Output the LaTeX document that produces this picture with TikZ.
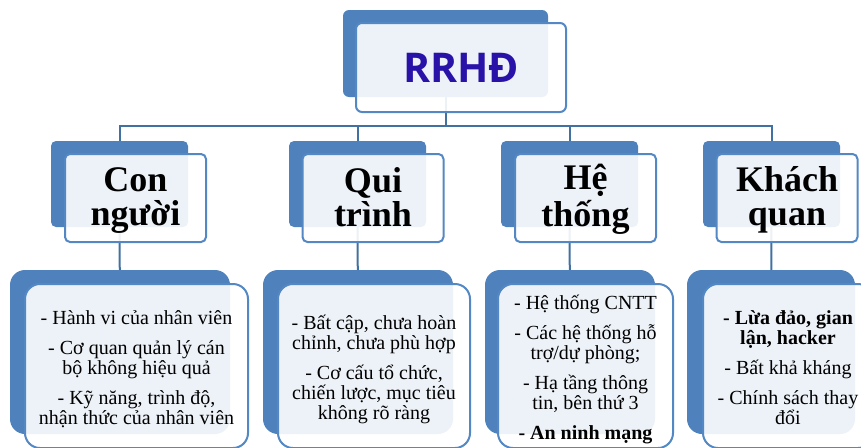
\documentclass[tikz,border=0pt]{standalone}
\usepackage{fontspec}
\setmainfont{Liberation Serif}
\newfontfamily\titlefont{Open Sans}
\usetikzlibrary{backgrounds}
\definecolor{backblue}{RGB}{79,129,189}
\definecolor{frontline}{RGB}{84,136,196}
\definecolor{conn}{RGB}{65,113,160}
\definecolor{titleblue}{RGB}{40,18,168}
\newcommand\ltwostrut{\rule[-6pt]{0pt}{34pt}}
\newcommand\lthreestrut{\rule[-5pt]{0pt}{15pt}}
\newcommand\lthreefirst{\rule[-5pt]{0pt}{27pt}}
\tikzset{
 backbox/.style={fill=backblue, draw=none, inner sep=0pt, outer sep=0pt},
 frontbox/.style={draw=frontline, line width=2pt, fill=white, fill opacity=0.9, text opacity=1, inner sep=0pt, align=center},
 conline/.style={draw=conn, line width=2pt},
 l2text/.style={font=\bfseries\fontsize{36}{34}\selectfont},
 l3text/.style={font=\fontsize{20}{20}\selectfont},
}
\begin{document}
\begin{tikzpicture}[x=1pt,y=-1pt]
\useasboundingbox (0,0) rectangle (861,447);
\clip (0,0) rectangle (861,447);
% top
\node[backbox, rounded corners=6pt, minimum width=205pt, minimum height=87pt] (topB) at (445.5,53.5) {};
\node[frontbox, rounded corners=6pt, minimum width=210pt, minimum height=89pt, text=titleblue, font=\titlefont\bfseries\fontsize{41}{41}\selectfont] (topF) at (461,67.5) {RRHĐ};
% level 2
\node[backbox, rounded corners=5pt, minimum width=137pt, minimum height=86pt] (aB) at (119.5,184) {};
\node[frontbox, rounded corners=5pt, minimum width=141pt, minimum height=88pt, l2text] (aF) at (135.5,198) {\ltwostrut Con\\\ltwostrut người};
\node[backbox, rounded corners=5pt, minimum width=137pt, minimum height=86pt] (bB) at (357.5,184) {};
\node[frontbox, rounded corners=5pt, minimum width=141pt, minimum height=88pt, l2text] (bF) at (373,198) {\ltwostrut Qui\\\ltwostrut trình};
\node[backbox, rounded corners=5pt, minimum width=137pt, minimum height=86pt] (cB) at (569.5,184) {};
\node[frontbox, rounded corners=5pt, minimum width=141pt, minimum height=88pt, l2text] (cF) at (585.5,198) {\ltwostrut Hệ\\\ltwostrut thống};
\node[backbox, rounded corners=5pt, minimum width=137pt, minimum height=86pt] (dB) at (771.5,184) {};
\node[frontbox, rounded corners=5pt, minimum width=141pt, minimum height=88pt, l2text] (dF) at (787,198) {\ltwostrut Khách\\\ltwostrut quan};
% level 3
\node[backbox, rounded corners=15pt, minimum width=220pt, minimum height=164pt] (aLB) at (120,352) {};
\node[frontbox, rounded corners=15pt, minimum width=223pt, minimum height=164pt, l3text] (aLF) at (136.5,366) {\lthreefirst- Hành vi của nhân viên\\[10pt]\lthreestrut- Cơ quan quản lý cán\\\lthreestrut bộ không hiệu quả\\[10pt]\lthreestrut- Kỹ năng, trình độ,\\\lthreestrut nhận thức của nhân viên};
\node[backbox, rounded corners=15pt, minimum width=190pt, minimum height=164pt] (bLB) at (358,352) {};
\node[frontbox, rounded corners=15pt, minimum width=192pt, minimum height=164pt, l3text] (bLF) at (374,366) {\lthreefirst- Bất cập, chưa hoàn\\\lthreestrut chỉnh, chưa phù hợp\\[10pt]\lthreestrut- Cơ cấu tổ chức,\\\lthreestrut chiến lược, mục tiêu\\\lthreestrut không rõ ràng};
\node[backbox, rounded corners=15pt, minimum width=170pt, minimum height=164pt] (cLB) at (570,352) {};
\node[frontbox, rounded corners=15pt, minimum width=175pt, minimum height=164pt, l3text] (cLF) at (585.5,366) {\lthreefirst- Hệ thống CNTT\\[10pt]\lthreestrut- Các hệ thống hỗ\\\lthreestrut trợ/dự phòng;\\[10pt]\lthreestrut- Hạ tầng thông\\\lthreestrut tin, bên thứ 3\\[10pt]\lthreestrut\textbf{- An ninh mạng}};
\node[backbox, rounded corners=15pt, minimum width=168pt, minimum height=164pt] (dLB) at (771,352) {};
\node[frontbox, rounded corners=15pt, minimum width=170pt, minimum height=164pt, l3text] (dLF) at (788,366) {\lthreefirst\textbf{- Lừa đảo, gian}\\\lthreestrut\textbf{lận, hacker}\\[10pt]\lthreestrut- Bất khả kháng\\[10pt]\lthreestrut- Chính sách thay\\\lthreestrut đổi};
% connectors
\begin{scope}[on background layer]
\coordinate (bus) at (0,126);
\draw[conline] (topB.center) -- (topB.center |- bus) -| (aB.center);
\draw[conline] (topB.center |- bus) -| (bB.center);
\draw[conline] (topB.center |- bus) -| (cB.center);
\draw[conline] (topB.center |- bus) -| (dB.center);
\draw[conline] (aB.center) -- (aLB.center);
\draw[conline] (bB.center) -- (bLB.center);
\draw[conline] (cB.center) -- (cLB.center);
\draw[conline] (dB.center) -- (dLB.center);
\end{scope}
\end{tikzpicture}
\end{document}
